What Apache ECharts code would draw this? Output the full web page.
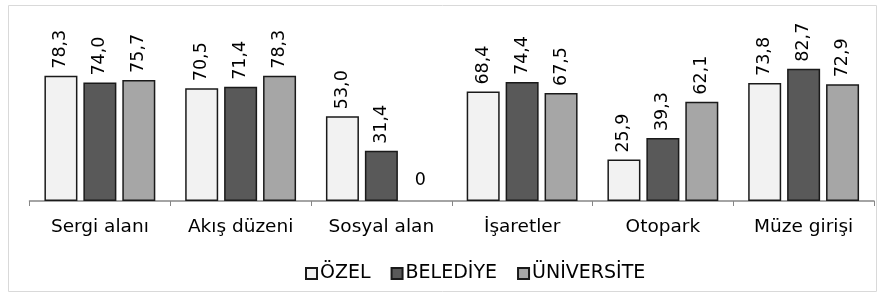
<!DOCTYPE html>
<html>
<head>
    <meta charset="utf-8">
    <title>Bar chart</title>
    <script src="https://cdn.jsdelivr.net/npm/echarts@6/dist/echarts.min.js"></script>
    <style>
        body { margin: 0; background: #fff; }
        #chart { width: 880px; height: 295px; }
    </style>
</head>
<body>
    <div id="chart"></div>
    <script type="text/javascript">
        // data
        const categories = ['Sergi alanı', 'Akış düzeni', 'Sosyal alan', 'İşaretler', 'Otopark', 'Müze girişi'];
        const ozel = [78.3, 70.5, 53.0, 68.4, 25.9, 73.8];
        const belediye = [74.0, 71.4, 31.4, 74.4, 39.3, 82.7];
        const universite = [75.7, 78.3, 0, 67.5, 62.1, 72.9];

        const seriesNames = ['ÖZEL', 'BELEDİYE', 'ÜNİVERSİTE'];
        const seriesColors = ['#f2f2f2', '#595959', '#a6a6a6'];
        const font = 'DejaVu Sans, Verdana, sans-serif';

        const chart = echarts.init(document.getElementById('chart'));

        function fmt(v) {
            return v === 0 ? '0' : v.toFixed(1).replace('.', ',');
        }

        function makeSeries(name, values, color) {
            return {
                name: name,
                type: 'bar',
                barWidth: 33,
                barGap: '18%',
                data: values.map(function (v) {
                    if (v === 0) {
                        // zero value: no visible bar, upright label
                        return {
                            value: v,
                            itemStyle: { borderWidth: 0 },
                            label: { rotate: 0, align: 'center', verticalAlign: 'bottom', distance: 12 }
                        };
                    }
                    return v;
                }),
                itemStyle: { color: color, borderColor: '#1a1a1a', borderWidth: 1.5 },
                label: {
                    show: true,
                    position: 'top',
                    rotate: 90,
                    align: 'left',
                    verticalAlign: 'middle',
                    distance: 7,
                    color: '#000',
                    fontFamily: font,
                    fontSize: 17.5,
                    formatter: function (p) { return fmt(p.value); }
                }
            };
        }

        const option = {
            animation: false,
            graphic: [{
                type: 'rect',
                shape: { x: 8.5, y: 5.5, width: 868, height: 286 },
                style: { fill: 'none', stroke: '#d9d9d9', lineWidth: 1 },
                silent: true
            }],
            legend: {
                left: 300,
                top: 259,
                itemWidth: 11,
                itemHeight: 11,
                itemGap: 20,
                icon: 'rect',
                textStyle: { fontFamily: font, fontSize: 19, color: '#000', padding: [0, 0, 0, -2] },
                data: seriesNames
            },
            grid: { left: 29.5, right: 6, top: 41, bottom: 94 },
            xAxis: {
                type: 'category',
                data: categories,
                axisLine: { lineStyle: { color: '#868686', width: 1.5 } },
                axisTick: { show: true, length: 5, lineStyle: { color: '#868686' } },
                axisLabel: { color: '#000', fontFamily: font, fontSize: 18.5, margin: 17 }
            },
            yAxis: {
                type: 'value',
                min: 0,
                max: 100,
                show: false,
                splitLine: { show: false }
            },
            series: [
                makeSeries(seriesNames[0], ozel, seriesColors[0]),
                makeSeries(seriesNames[1], belediye, seriesColors[1]),
                makeSeries(seriesNames[2], universite, seriesColors[2])
            ]
        };
        chart.setOption(option);
    </script>
</body>
</html>
